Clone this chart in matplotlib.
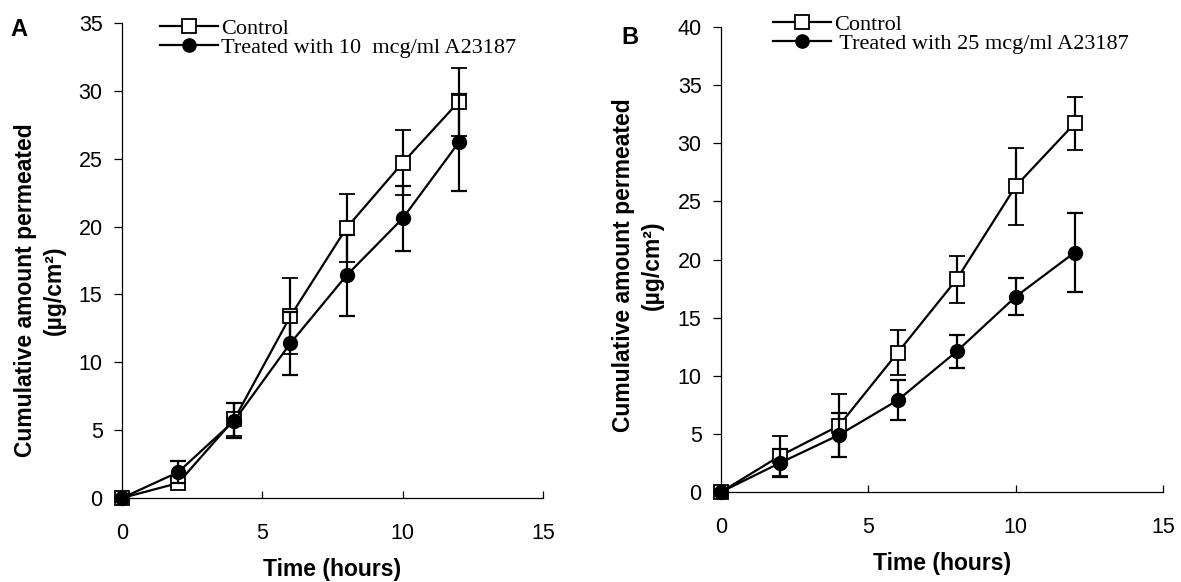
import numpy as np
from matplotlib import pyplot as plt
from matplotlib.lines import Line2D

# time points (hours)
t = [0, 2, 4, 6, 8, 10, 12]

# panel A
ctrl_a = [0, 1.1, 5.8, 13.4, 19.9, 24.7, 29.2]
ctrl_a_err = [0, 0.3, 1.2, 2.8, 2.5, 2.4, 2.5]
trt_a = [0, 1.9, 5.7, 11.4, 16.4, 20.6, 26.2]
trt_a_err = [0, 0.8, 1.3, 2.3, 3.0, 2.4, 3.6]

# panel B
ctrl_b = [0, 3.1, 5.7, 12.0, 18.3, 26.3, 31.7]
ctrl_b_err = [0, 1.7, 2.7, 1.9, 2.0, 3.3, 2.3]
trt_b = [0, 2.5, 4.9, 7.9, 12.1, 16.8, 20.6]
trt_b_err = [0, 1.2, 1.9, 1.7, 1.4, 1.6, 3.4]

plt.rcParams["font.family"] = ["Liberation Sans", "DejaVu Sans"]

W, H = 1181, 582
fig = plt.figure(figsize=(W / 100, H / 100), dpi=100)
ax1 = fig.add_axes([122 / W, 1 - 498 / H, 421 / W, 475 / H])
ax2 = fig.add_axes([721 / W, 1 - 492 / H, 442 / W, 465 / H])


def draw(ax, c, ce, tr, tre, ymax, label, leg_xy, lab_xy, letter, letter_xy):
    e1 = ax.errorbar(t, c, yerr=ce, color="k", lw=1.6, capsize=5.5, capthick=1.6,
                     marker="s", ms=10, mfc="white", mec="k", mew=1.3, zorder=3)
    e2 = ax.errorbar(t, tr, yerr=tre, color="k", lw=1.6, capsize=5.5, capthick=1.6,
                     marker="o", ms=10, mfc="k", mec="k", zorder=4)
    for e in (e1, e2):
        for a in e.get_children():
            a.set_clip_on(False)
    ax.set_xlim(0, 15)
    ax.set_ylim(0, ymax)
    ax.set_xticks([0, 5, 10, 15])
    ax.set_yticks(np.arange(0, ymax + 1, 5))
    ax.spines["top"].set_visible(False)
    ax.spines["right"].set_visible(False)
    ax.spines["left"].set_linewidth(0.9)
    ax.spines["bottom"].set_linewidth(0.9)
    ax.tick_params(axis="x", direction="in", length=5, width=0.9, pad=18, labelsize=15.5)
    ax.tick_params(axis="y", direction="out", length=6, width=0.9, pad=8, labelsize=15.5)
    ax.set_xlabel("Time (hours)", fontsize=16.5, fontweight="bold", labelpad=10)
    fig.text(lab_xy[0] / W, 1 - lab_xy[1] / H,
             "Cumulative amount permeated\n(\u00b5g/cm\u00b2)", rotation=90,
             ha="center", va="center", multialignment="center",
             fontsize=16.5, fontweight="bold", linespacing=1.3)
    fig.text(letter_xy[0] / W, 1 - letter_xy[1] / H, letter, fontsize=17,
             fontweight="bold", ha="center", va="center")
    h1 = Line2D([], [], color="k", lw=1.6, marker="s", ms=9.5, mfc="white", mec="k", mew=1.3)
    h2 = Line2D([], [], color="k", lw=1.6, marker="o", ms=9.5, mfc="k", mec="k")
    ax.legend([h1, h2], ["Control", label], loc="upper left",
              bbox_to_anchor=(leg_xy[0] / W, 1 - leg_xy[1] / H),
              bbox_transform=fig.transFigure, frameon=False,
              prop={"family": "Liberation Serif", "size": 16}, handlelength=2.6,
              handletextpad=0.15, labelspacing=-0.07, borderpad=0, borderaxespad=0)


draw(ax1, ctrl_a, ctrl_a_err, trt_a, trt_a_err, 35,
     "Treated with 10  mcg/ml A23187", (160, 18), (40, 290), "A", (19, 29))
draw(ax2, ctrl_b, ctrl_b_err, trt_b, trt_b_err, 40,
     " Treated with 25 mcg/ml A23187", (773, 14), (638, 265), "B", (630, 37))

plt.savefig("out.png", dpi=100)
